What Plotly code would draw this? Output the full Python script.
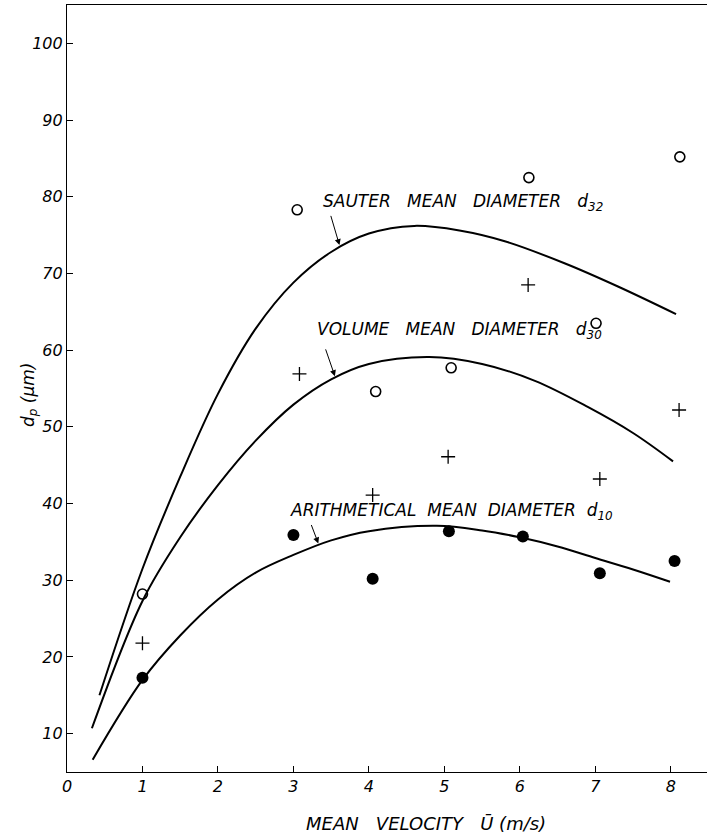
import plotly.graph_objects as go

# ---- data ----
d32_x = [1.0, 3.05, 4.09, 5.09, 6.12, 7.01, 8.12]
d32_y = [28.2, 78.3, 54.6, 57.7, 82.5, 63.5, 85.2]

d30_x = [1.0, 3.08, 4.05, 5.05, 6.11, 7.06, 8.11]
d30_y = [21.8, 56.9, 41.1, 46.1, 68.5, 43.2, 52.2]

d10_x = [1.0, 3.0, 4.05, 5.06, 6.04, 7.06, 8.05]
d10_y = [17.3, 35.9, 30.2, 36.4, 35.7, 30.9, 32.5]

# fitted curves
c32_x = [0.43, 1.0, 1.5, 2.0, 2.5, 3.0, 3.5, 4.0, 4.6, 5.2, 5.8, 6.6, 7.3, 8.07]
c32_y = [15.0, 31.5, 43.5, 54.3, 62.8, 68.8, 72.8, 75.2, 76.2, 75.6, 74.2, 71.3, 68.3, 64.7]

c30_x = [0.33, 1.0, 1.5, 2.0, 2.5, 3.0, 3.5, 4.0, 4.8, 5.5, 6.2, 6.9, 7.5, 8.03]
c30_y = [10.7, 27.3, 35.6, 42.4, 48.2, 52.9, 56.2, 58.2, 59.1, 58.2, 56.0, 52.6, 49.2, 45.5]

c10_x = [0.34, 1.0, 1.5, 2.0, 2.5, 3.0, 3.5, 4.0, 4.9, 5.5, 6.0, 6.5, 7.0, 7.5, 7.99]
c10_y = [6.6, 17.0, 22.8, 27.5, 31.0, 33.3, 35.2, 36.4, 37.1, 36.5, 35.6, 34.4, 32.9, 31.4, 29.8]

x_ticks = [0, 1, 2, 3, 4, 5, 6, 7, 8]
y_ticks = [10, 20, 30, 40, 50, 60, 70, 80, 90, 100]

FONT = "DejaVu Sans"

fig = go.Figure()

for cx, cy in [(c32_x, c32_y), (c30_x, c30_y), (c10_x, c10_y)]:
    fig.add_trace(go.Scatter(x=cx, y=cy, mode="lines",
                             line=dict(color="black", width=2, shape="spline", smoothing=1.0),
                             hoverinfo="skip", showlegend=False))

fig.add_trace(go.Scatter(x=d32_x, y=d32_y, mode="markers",
                         marker=dict(symbol="circle-open", size=10, color="black",
                                     line=dict(width=1.6, color="black")),
                         showlegend=False))
fig.add_trace(go.Scatter(x=d30_x, y=d30_y, mode="markers",
                         marker=dict(symbol="cross-thin-open", size=10, color="black",
                                     line=dict(width=1.3, color="black")),
                         showlegend=False))
fig.add_trace(go.Scatter(x=d10_x, y=d10_y, mode="markers",
                         marker=dict(symbol="circle", size=12, color="black"),
                         showlegend=False))

labels = [
    ("SAUTER   MEAN   DIAMETER   d<sub>32</sub>", 3.37, 79.3, 3.49, 77.7, 3.61, 73.7),
    ("VOLUME   MEAN   DIAMETER   d<sub>30</sub>", 3.28, 62.6, 3.42, 60.3, 3.55, 56.6),
    ("ARITHMETICAL  MEAN  DIAMETER  d<sub>10</sub>", 2.93, 38.9, 3.23, 37.4, 3.33, 34.8),
]
for text, tx, ty, ax0, ay0, ax1, ay1 in labels:
    fig.add_annotation(x=tx, y=ty, xref="x", yref="y", text=text, showarrow=False,
                       xanchor="left", yanchor="middle",
                       font=dict(family=FONT, size=17, color="black", style="italic"))
    fig.add_annotation(x=ax1, y=ay1, ax=ax0, ay=ay0, xref="x", yref="y",
                       axref="x", ayref="y", text="", showarrow=True,
                       arrowhead=2, arrowsize=1.2, arrowwidth=1, arrowcolor="black")

fig.add_annotation(x=-0.08, y=54.2, xref="paper", yref="y",
                   text="d<sub>p</sub> (μm)", textangle=-90, showarrow=False,
                   font=dict(family=FONT, size=17, color="black", style="italic"))
fig.add_annotation(x=4.76, y=-0.067, xref="x", yref="paper",
                   text="MEAN   VELOCITY   Ū (m/s)", showarrow=False, yanchor="middle",
                   font=dict(family=FONT, size=18, color="black", style="italic"))

fig.update_layout(
    width=707, height=835,
    margin=dict(l=67, r=0, t=5, b=63),
    paper_bgcolor="white", plot_bgcolor="white",
    font=dict(family=FONT, color="black"),
    xaxis=dict(range=[0, 8.48], tickvals=x_ticks, ticktext=[str(v) for v in x_ticks],
               ticks="inside", ticklen=6, tickcolor="black", tickwidth=1,
               showline=True, linecolor="black", linewidth=1.2, mirror=True,
               showgrid=False, zeroline=False,
               tickfont=dict(family=FONT, size=16, color="black", style="italic")),
    yaxis=dict(range=[5, 105], tickvals=y_ticks, ticktext=[str(v) for v in y_ticks],
               ticks="inside", ticklen=6, tickcolor="black", tickwidth=1,
               showline=True, linecolor="black", linewidth=1.2, mirror=False,
               showgrid=False, zeroline=False,
               tickfont=dict(family=FONT, size=16, color="black", style="italic")),
)

fig.write_html("out.html")
